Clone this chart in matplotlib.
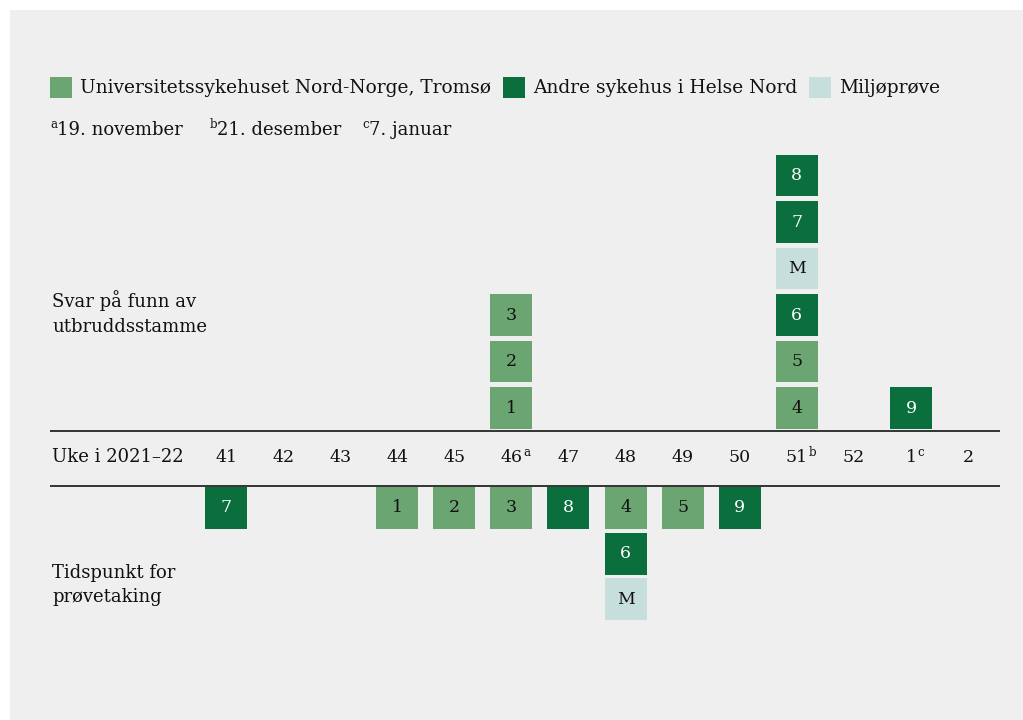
import matplotlib
matplotlib.use('Agg')
import matplotlib.pyplot as plt
from matplotlib.patches import Rectangle

# Data
weeks = ['41', '42', '43', '44', '45', '46', '47', '48', '49', '50', '51', '52', '1', '2']
week_notes = {'46': 'a', '51': 'b', '1': 'c'}

# Svar på funn (bottom to top within each week)
answer_week = ['46', '46', '46', '51', '51', '51', '51', '51', '51', '1']
answer_label = ['1', '2', '3', '4', '5', '6', 'M', '7', '8', '9']
answer_source = ['unn', 'unn', 'unn', 'unn', 'unn', 'andre', 'milj', 'andre', 'andre', 'andre']

# Tidspunkt for prøvetaking (top to bottom within each week)
sample_week = ['41', '44', '45', '46', '47', '48', '48', '48', '49', '50']
sample_label = ['7', '1', '2', '3', '8', '4', '6', 'M', '5', '9']
sample_source = ['andre', 'unn', 'unn', 'unn', 'andre', 'unn', 'andre', 'milj', 'unn', 'andre']

source_names = ['Universitetssykehuset Nord-Norge, Tromsø', 'Andre sykehus i Helse Nord', 'Miljøprøve']
footnotes = [('a', '19. november'), ('b', '21. desember'), ('c', '7. januar')]

colors = {'unn': '#6ba672', 'andre': '#0b6f3d', 'milj': '#c6dfdc'}
text_colors = {'unn': '#111111', 'andre': 'white', 'milj': '#111111'}

plt.rcParams['font.family'] = ['DejaVu Serif']
W, H = 1023, 720
fig = plt.figure(figsize=(W / 100, H / 100), dpi=100)
fig.patch.set_facecolor('white')
fig.patches.append(Rectangle((10 / W, 0), 1, 1 - 10 / H, transform=fig.transFigure,
                             facecolor='#efefef', edgecolor='none', zorder=-5))

ax = fig.add_axes([0, 0, 1, 1])
ax.set_facecolor('none')
ax.axis('off')
# one x unit = one week column, one y unit = one box step
px_x, px_y = 57.08, 46.5
x0, y0 = 226, 408
ax.set_xlim(-x0 / px_x, (W - x0) / px_x)
ax.set_ylim((y0 - H) / px_y, y0 / px_y)

bw, bh = 0.736, 0.903


def draw_box(x, yc, label, src):
    ax.bar(x, bh, bottom=yc - bh / 2, width=bw, color=colors[src], zorder=2)
    ax.text(x, yc, label, ha='center', va='center', fontsize=12.5,
            color=text_colors[src], zorder=3)


count = {}
for wk, lab, src in zip(answer_week, answer_label, answer_source):
    k = count.get(wk, 0)
    count[wk] = k + 1
    draw_box(weeks.index(wk), k, lab, src)

count = {}
for wk, lab, src in zip(sample_week, sample_label, sample_source):
    k = count.get(wk, 0)
    count[wk] = k + 1
    draw_box(weeks.index(wk), -2.15 - 0.98 * k, lab, src)

# axis band
line_top, line_bot = -0.495, -1.677
xl, xr = (50 - x0) / px_x, (1000 - x0) / px_x
ax.hlines([line_top, line_bot], xl, xr, color='#333333', lw=1.4, zorder=4)
y_lab = (y0 - 457) / px_y
fs_week = 12.5
for i, wk in enumerate(weeks):
    ax.text(i, y_lab, wk, ha='center', va='center', fontsize=fs_week, color='#111111')
    if wk in week_notes:
        half_w = len(wk) * 0.636 * fs_week / 2
        ax.annotate(week_notes[wk], xy=(i, y_lab), xytext=(half_w + 0.5, -1.5),
                    textcoords='offset points', ha='left', va='bottom', fontsize=8.5, color='#111111')
ax.text(xl + 0.04, y_lab, 'Uke i 2021–22', ha='left', va='center', fontsize=13, color='#111111')

# side labels
ax.text(xl + 0.04, (y0 - 313) / px_y, 'Svar på funn av\nutbruddsstamme', ha='left', va='center',
        fontsize=13, color='#111111', linespacing=1.45)
ax.text(xl + 0.04, (y0 - 585) / px_y, 'Tidspunkt for\nprøvetaking', ha='left', va='center',
        fontsize=13, color='#111111', linespacing=1.45)

# legend
leg_x = [50, 503, 809]
for (name, src), lx in zip(zip(source_names, ['unn', 'andre', 'milj']), leg_x):
    fig.patches.append(Rectangle((lx / W, 1 - 98 / H), 22 / W, 21 / H, transform=fig.transFigure,
                                 facecolor=colors[src], edgecolor='none', zorder=1))
    fig.text((lx + 30) / W, 1 - 88 / H, name, ha='left', va='center', fontsize=13.4, color='#111111')

# footnotes
foot_x = [50, 210, 362]
for (mark, txt), fx in zip(footnotes, foot_x):
    fig.text(fx / W, 1 - 125 / H, mark, ha='left', va='center', fontsize=8.5, color='#111111')
    fig.text((fx + 7) / W, 1 - 130 / H, txt, ha='left', va='center', fontsize=13, color='#111111')

fig.savefig('out.png', dpi=100, facecolor=fig.get_facecolor())
